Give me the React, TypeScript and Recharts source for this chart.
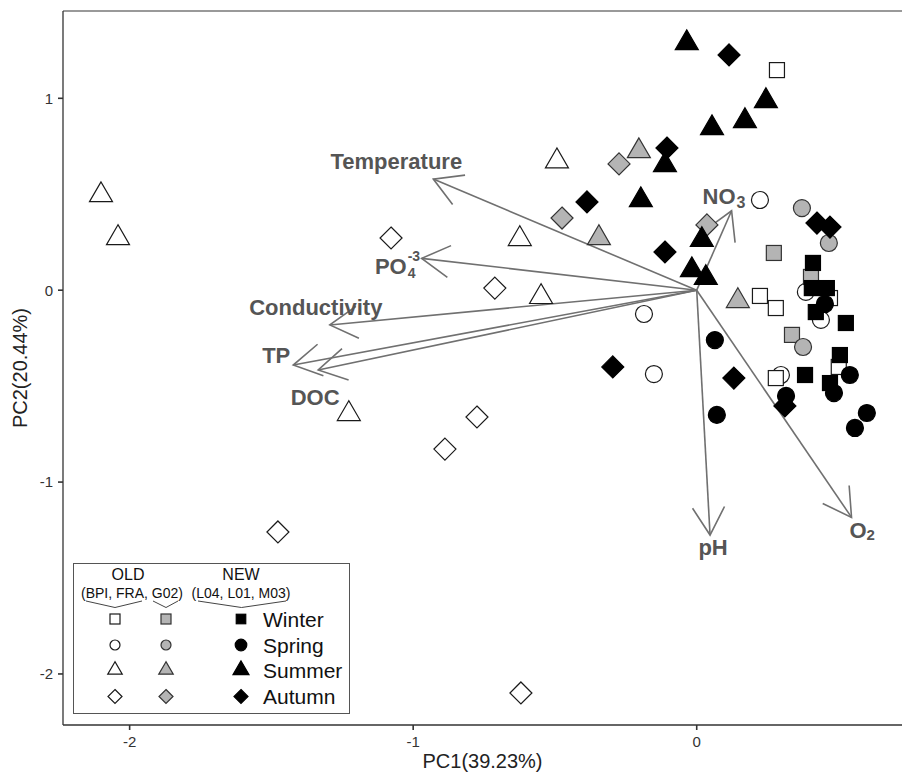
import { ScatterChart, Scatter, XAxis, YAxis, ReferenceLine, Legend } from 'recharts'

// PCA site scores as [PC1, PC2]
// OLD sites BPI / FRA (open symbols)
const oldWinter = [[0.283, 1.147], [0.223, -0.03], [0.279, -0.093], [0.47, -0.041], [0.501, -0.4], [0.279, -0.458]]
const oldSpring = [[0.223, 0.47], [-0.186, -0.124], [-0.151, -0.437], [0.385, -0.009], [0.438, -0.155], [0.297, -0.442]]
const oldSummer = [[-2.101, 0.496], [-2.041, 0.272], [-0.493, 0.672], [-0.624, 0.267], [-0.549, -0.035], [-1.227, -0.645]]
const oldAutumn = [[-1.078, 0.272], [-0.712, 0.011], [-0.775, -0.661], [-0.888, -0.828], [-1.477, -1.26], [-0.62, -2.099]]
// OLD site G02 (grey symbols)
const g02Winter = [[0.272, 0.194], [0.403, 0.069], [0.336, -0.233]]
const g02Spring = [[0.371, 0.428], [0.466, 0.246], [0.375, -0.296]]
const g02Summer = [[-0.204, 0.725], [-0.345, 0.272], [0.145, -0.056]]
const g02Autumn = [[-0.274, 0.658], [-0.475, 0.376], [0.036, 0.34]]
// NEW sites L04 / L01 / M03 (black symbols)
const newWinter = [[0.41, 0.142], [0.406, 0.011], [0.459, 0.011], [0.42, -0.114], [0.526, -0.171], [0.505, -0.338], [0.382, -0.442], [0.47, -0.484]]
const newSpring = [[0.452, -0.072], [0.54, -0.442], [0.484, -0.536], [0.315, -0.551], [0.6, -0.64], [0.558, -0.718], [0.064, -0.26], [0.071, -0.65]]
const newSummer = [[-0.035, 1.288], [0.244, 0.986], [0.17, 0.882], [0.054, 0.845], [-0.112, 0.652], [-0.197, 0.47], [0.018, 0.262], [-0.017, 0.105], [0.032, 0.064]]
const newAutumn = [[0.114, 1.226], [-0.105, 0.741], [-0.387, 0.46], [-0.112, 0.199], [0.424, 0.35], [0.47, 0.329], [-0.296, -0.4], [0.131, -0.458], [0.311, -0.603]]

// environmental variable loadings
const variables = ['Temperature', 'PO4', 'Conductivity', 'TP', 'DOC', 'NO3', 'pH', 'O2']
const loadPC1 = [-0.929, -0.97, -1.294, -1.423, -1.335, 0.123, 0.047, 0.546]
const loadPC2 = [0.579, 0.166, -0.181, -0.39, -0.416, 0.414, -1.276, -1.184]

const xTicks = [-2, -1, 0]
const yTicks = [-2, -1, 0, 1]
const X_DOMAIN = [-2.235, 0.724]
const Y_DOMAIN = [-2.266, 1.455]

const FONT = '"Liberation Sans", Arial, sans-serif'
const GREY = '#b4b4b4'
const ARROW = '#707070'
const LABEL = '#555555'

type Kind = 'square' | 'circle' | 'triangle' | 'diamond'

const fills = { open: '#ffffff', grey: GREY, black: '#000000' }
const strokes = { open: '#1a1a1a', grey: '#333333', black: '#000000' }

function Mark({ cx, cy, kind, tone, small }: { cx: number; cy: number; kind: Kind; tone: 'open' | 'grey' | 'black'; small?: boolean }) {
  const fill = fills[tone]
  const stroke = strokes[tone]
  const sw = 1.2
  if (kind === 'square') {
    const a = small ? (tone === 'black' ? 9.5 : 10) : 15
    return <rect x={cx - a / 2} y={cy - a / 2} width={a} height={a} fill={fill} stroke={stroke} strokeWidth={sw} />
  }
  if (kind === 'circle') {
    const r = small ? (tone === 'black' ? 5.8 : 5) : 8.5
    return <circle cx={cx} cy={cy} r={r} fill={fill} stroke={stroke} strokeWidth={sw} />
  }
  if (kind === 'triangle') {
    const w = small ? (tone === 'black' ? 16 : 14.5) : 23
    const h = w * 0.86
    return (
      <polygon
        points={`${cx},${cy - (2 * h) / 3} ${cx - w / 2},${cy + h / 3} ${cx + w / 2},${cy + h / 3}`}
        fill={fill}
        stroke={stroke}
        strokeWidth={sw}
        strokeLinejoin="miter"
      />
    )
  }
  const d = small ? 7 : 11
  return <polygon points={`${cx},${cy - d} ${cx + d},${cy} ${cx},${cy + d} ${cx - d},${cy}`} fill={fill} stroke={stroke} strokeWidth={sw} />
}

const series: { name: string; data: number[][]; kind: Kind; tone: 'open' | 'grey' | 'black' }[] = [
  { name: 'OLD Spring', data: oldSpring, kind: 'circle', tone: 'open' },
  { name: 'OLD Winter', data: oldWinter, kind: 'square', tone: 'open' },
  { name: 'OLD Summer', data: oldSummer, kind: 'triangle', tone: 'open' },
  { name: 'OLD Autumn', data: oldAutumn, kind: 'diamond', tone: 'open' },
  { name: 'G02 Winter', data: g02Winter, kind: 'square', tone: 'grey' },
  { name: 'G02 Spring', data: g02Spring, kind: 'circle', tone: 'grey' },
  { name: 'G02 Summer', data: g02Summer, kind: 'triangle', tone: 'grey' },
  { name: 'G02 Autumn', data: g02Autumn, kind: 'diamond', tone: 'grey' },
  { name: 'NEW Winter', data: newWinter, kind: 'square', tone: 'black' },
  { name: 'NEW Spring', data: newSpring, kind: 'circle', tone: 'black' },
  { name: 'NEW Summer', data: newSummer, kind: 'triangle', tone: 'black' },
  { name: 'NEW Autumn', data: newAutumn, kind: 'diamond', tone: 'black' },
]

// label text drawn next to each arrow tip (pixel offsets from the tip)
function VarLabel({ name, x, y }: { name: string; x: number; y: number }) {
  const common = { fill: LABEL, fontFamily: FONT, fontWeight: 700, dominantBaseline: 'central' as const }
  switch (name) {
    case 'Temperature':
      return <text {...common} x={x - 37} y={y - 18} fontSize={22} textAnchor="middle">Temperature</text>
    case 'Conductivity':
      return <text {...common} x={x - 14} y={y - 17} fontSize={22} textAnchor="middle">Conductivity</text>
    case 'TP':
      return <text {...common} x={x - 17} y={y - 10} fontSize={22} textAnchor="middle">TP</text>
    case 'DOC':
      return <text {...common} x={x - 3} y={y + 27} fontSize={22} textAnchor="middle">DOC</text>
    case 'pH':
      return <text {...common} x={x + 3} y={y + 12} fontSize={22} textAnchor="middle">pH</text>
    case 'PO4':
      return (
        <g>
          <text {...common} x={x - 15} y={y + 8} fontSize={22} textAnchor="end">PO</text>
          <text {...common} x={x - 14} y={y - 2} fontSize={14} textAnchor="start">-3</text>
          <text {...common} x={x - 14} y={y + 15} fontSize={14} textAnchor="start">4</text>
        </g>
      )
    case 'NO3':
      return (
        <g>
          <text {...common} x={x - 29} y={y - 14} fontSize={22} textAnchor="start">NO</text>
          <text {...common} x={x + 5} y={y - 8} fontSize={16} textAnchor="start">3</text>
        </g>
      )
    case 'O2':
      return (
        <g>
          <text {...common} x={x - 2} y={y + 13} fontSize={22} textAnchor="start">O</text>
          <text {...common} x={x + 15} y={y + 17} fontSize={15} textAnchor="start">2</text>
        </g>
      )
  }
  return null
}

const arrowShape = (name: string) => (props: any) => {
  const { x1, y1, x2, y2 } = props
  const ang = Math.atan2(y1 - y2, x1 - x2)
  const L = 32
  const a = Math.PI / 6
  const h1 = `${x2 + L * Math.cos(ang + a)},${y2 + L * Math.sin(ang + a)}`
  const h2 = `${x2 + L * Math.cos(ang - a)},${y2 + L * Math.sin(ang - a)}`
  return (
    <g>
      <line x1={x1} y1={y1} x2={x2} y2={y2} stroke={ARROW} strokeWidth={1.6} />
      <polyline points={`${h1} ${x2},${y2} ${h2}`} fill="none" stroke={ARROW} strokeWidth={1.6} />
      <VarLabel name={name} x={x2} y={y2} />
    </g>
  )
}

function LegendBox() {
  const t = { fontFamily: FONT, fill: '#111', dominantBaseline: 'central' as const }
  const rows: { kind: Kind; label: string }[] = [
    { kind: 'square', label: 'Winter' },
    { kind: 'circle', label: 'Spring' },
    { kind: 'triangle', label: 'Summer' },
    { kind: 'diamond', label: 'Autumn' },
  ]
  const rowY = [56, 82, 107, 133.5]
  return (
    <svg width={278} height={152} style={{ display: 'block', overflow: 'visible' }}>
      <rect x={0.5} y={0.5} width={276} height={150} fill="#fff" stroke="#555" strokeWidth={1} />
      <text {...t} x={55} y={11.5} fontSize={16} textAnchor="middle">OLD</text>
      <text {...t} x={168} y={11.5} fontSize={16} textAnchor="middle">NEW</text>
      <text {...t} x={59} y={30} fontSize={14} textAnchor="middle">(BPI, FRA, G02)</text>
      <text {...t} x={168} y={30} fontSize={14} textAnchor="middle">(L04, L01, M03)</text>
      <polyline points="13,38 42,44.5 69,38" fill="none" stroke="#444" strokeWidth={1} />
      <polyline points="80,38 93,44.5 105,38" fill="none" stroke="#444" strokeWidth={1} />
      <polyline points="125,38 168.5,44.5 213,38" fill="none" stroke="#444" strokeWidth={1} />
      {rows.map((r, i) => (
        <g key={r.label}>
          <Mark cx={42} cy={rowY[i]} kind={r.kind} tone="open" small />
          <Mark cx={93} cy={rowY[i]} kind={r.kind} tone="grey" small />
          <Mark cx={168} cy={rowY[i]} kind={r.kind} tone="black" small />
          <text {...t} x={190} y={rowY[i]} fontSize={21} textAnchor="start">{r.label}</text>
        </g>
      ))}
    </svg>
  )
}

export default function App() {
  return (
    <div style={{ width: 902, height: 776 }}>
      <style>{'body{margin:0;overflow:hidden;}'}</style>
      <ScatterChart width={902} height={776} margin={{ top: 11, right: 0, bottom: 0, left: 0 }}>
        <XAxis
          type="number"
          dataKey="x"
          domain={X_DOMAIN}
          ticks={xTicks}
          allowDataOverflow
          height={51}
          tickSize={5}
          tickMargin={6}
          axisLine={{ stroke: '#333', strokeWidth: 1.3 }}
          tickLine={{ stroke: '#333', strokeWidth: 1.6 }}
          tick={{ fill: '#333', fontSize: 15, fontFamily: FONT }}
          label={{ value: 'PC1(39.23%)', position: 'insideBottom', offset: 8, fill: '#222', fontSize: 20, fontFamily: FONT }}
        />
        <YAxis
          type="number"
          dataKey="y"
          domain={Y_DOMAIN}
          ticks={yTicks}
          allowDataOverflow
          width={63}
          tickSize={5}
          tickMargin={5}
          axisLine={{ stroke: '#333', strokeWidth: 1.3 }}
          tickLine={{ stroke: '#333', strokeWidth: 1.6 }}
          tick={{ fill: '#333', fontSize: 15, fontFamily: FONT }}
          label={{ value: 'PC2(20.44%)', angle: -90, position: 'insideLeft', offset: 20, fill: '#222', fontSize: 20, fontFamily: FONT, style: { textAnchor: 'middle' } }}
        />
        <ReferenceLine y={Y_DOMAIN[1]} stroke="#777" strokeWidth={1.5} />
        {series.map((s) => (
          <Scatter
            key={s.name}
            name={s.name}
            data={s.data.map(([x, y]) => ({ x, y }))}
            isAnimationActive={false}
            shape={(p: any) => <Mark cx={p.cx} cy={p.cy} kind={s.kind} tone={s.tone} />}
          />
        ))}
        {variables.map((v, i) => (
          <ReferenceLine
            key={v}
            segment={[{ x: 0, y: 0 }, { x: loadPC1[i], y: loadPC2[i] }]}
            shape={arrowShape(v)}
          />
        ))}
        <Legend
          layout="vertical"
          align="center"
          verticalAlign="middle"
          wrapperStyle={{ position: 'absolute', left: 73, top: 563, width: 278, height: 152 }}
          content={() => <LegendBox />}
        />
      </ScatterChart>
    </div>
  )
}
